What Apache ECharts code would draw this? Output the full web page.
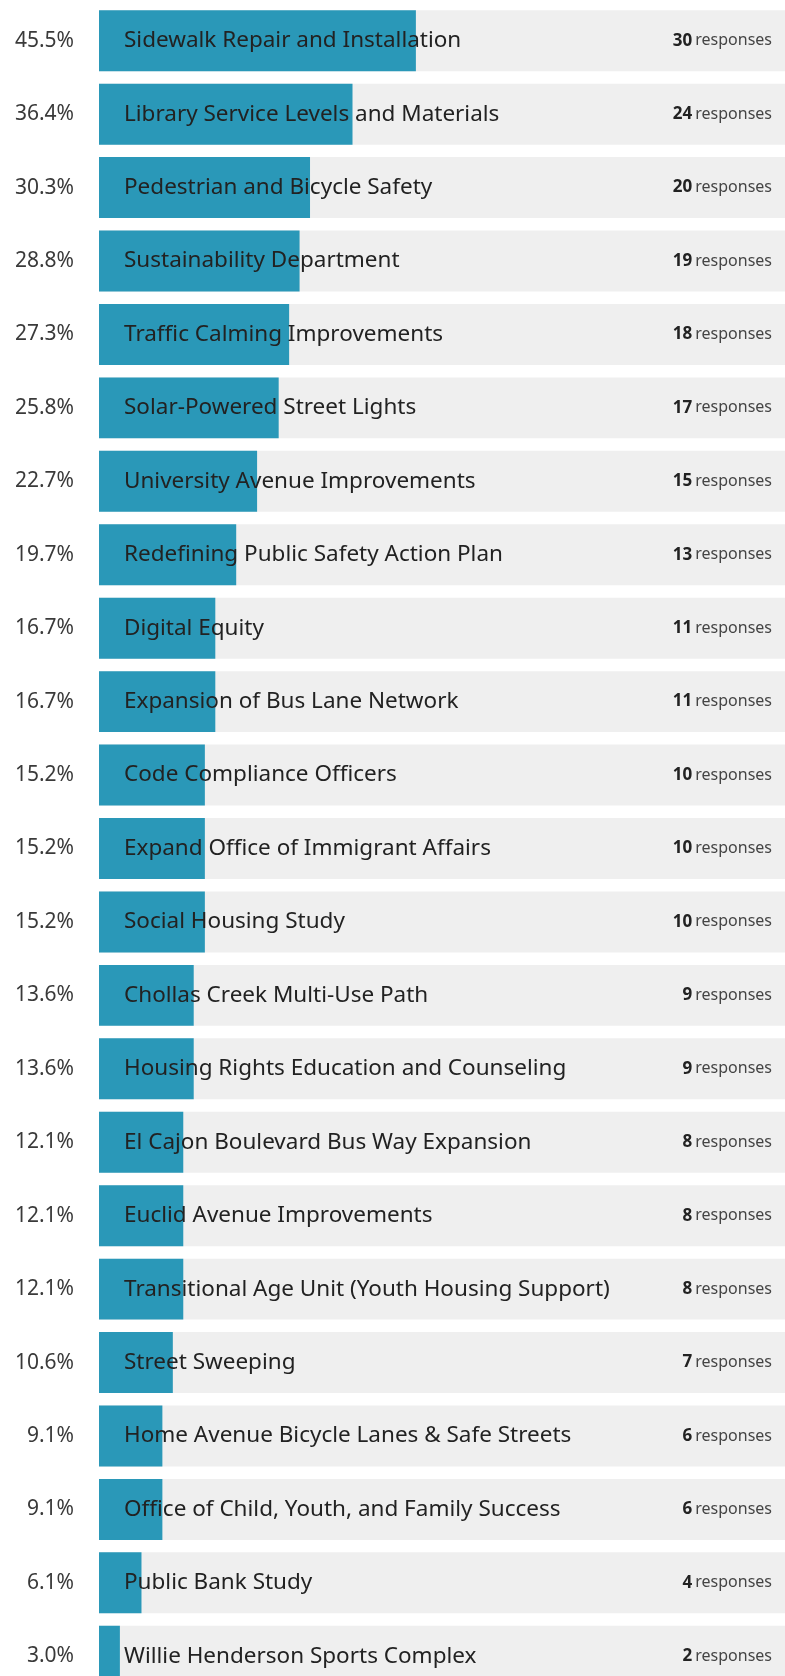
<!DOCTYPE html>
<html>
<head>
<meta charset="utf-8">
<script src="https://cdn.jsdelivr.net/npm/echarts@6/dist/echarts.min.js"></script>
<style>
html,body{margin:0;padding:0;background:#fff;overflow:hidden;}
#chart{width:785px;height:1700px;}
</style>
</head>
<body>
<div id="chart"></div>
<script>
const categories = [
  "Sidewalk Repair and Installation",
  "Library Service Levels and Materials",
  "Pedestrian and Bicycle Safety",
  "Sustainability Department",
  "Traffic Calming Improvements",
  "Solar-Powered Street Lights",
  "University Avenue Improvements",
  "Redefining Public Safety Action Plan",
  "Digital Equity",
  "Expansion of Bus Lane Network",
  "Code Compliance Officers",
  "Expand Office of Immigrant Affairs",
  "Social Housing Study",
  "Chollas Creek Multi-Use Path",
  "Housing Rights Education and Counseling",
  "El Cajon Boulevard Bus Way Expansion",
  "Euclid Avenue Improvements",
  "Transitional Age Unit (Youth Housing Support)",
  "Street Sweeping",
  "Home Avenue Bicycle Lanes & Safe Streets",
  "Office of Child, Youth, and Family Success",
  "Public Bank Study",
  "Willie Henderson Sports Complex"
];
const percents = [45.5, 36.4, 30.3, 28.8, 27.3, 25.8, 22.7, 19.7, 16.7, 16.7, 15.2, 15.2, 15.2, 13.6, 13.6, 12.1, 12.1, 12.1, 10.6, 9.1, 9.1, 6.1, 3.0];
const responses = [30, 24, 20, 19, 18, 17, 15, 13, 11, 11, 10, 10, 10, 9, 9, 8, 8, 8, 7, 6, 6, 4, 2];

const chart = echarts.init(document.getElementById('chart'), null, {renderer: 'canvas'});
const FONT = '"Noto Sans", "Open Sans", sans-serif';
chart.setOption({
  animation: false,
  backgroundColor: '#ffffff',
  grid: {left: 99, right: 0, top: 4, height: 1689},
  xAxis: {type: 'value', min: 0, max: 98.5, show: false},
  yAxis: [
    {
      type: 'category', inverse: true, data: categories, position: 'left',
      axisLine: {show: false}, axisTick: {show: false}, splitLine: {show: false},
      axisLabel: {
        margin: 25, fontSize: 21, color: '#3a3a3a', fontFamily: FONT,
        formatter: (v, i) => percents[i].toFixed(1) + '%'
      }
    },
    {
      type: 'category', inverse: true, data: categories, position: 'right', z: 10,
      axisLine: {show: false}, axisTick: {show: false}, splitLine: {show: false},
      axisLabel: {
        inside: true, margin: 13, fontFamily: FONT,
        formatter: (v, i) => '{n|' + responses[i] + '} {r|responses}',
        rich: {
          n: {fontSize: 17, fontWeight: 'bold', color: '#222', fontFamily: FONT},
          r: {fontSize: 16, color: '#444', fontFamily: FONT}
        }
      }
    }
  ],
  series: [{
    type: 'bar',
    yAxisIndex: 0,
    data: percents,
    barCategoryGap: '17%',
    itemStyle: {color: '#2a98b8'},
    showBackground: true,
    backgroundStyle: {color: '#efefef'},
    label: {
      show: true, position: 'insideLeft', distance: 25,
      formatter: '{b}', fontSize: 22.5, color: '#222', fontFamily: FONT
    }
  }]
});
</script>
</body>
</html>
